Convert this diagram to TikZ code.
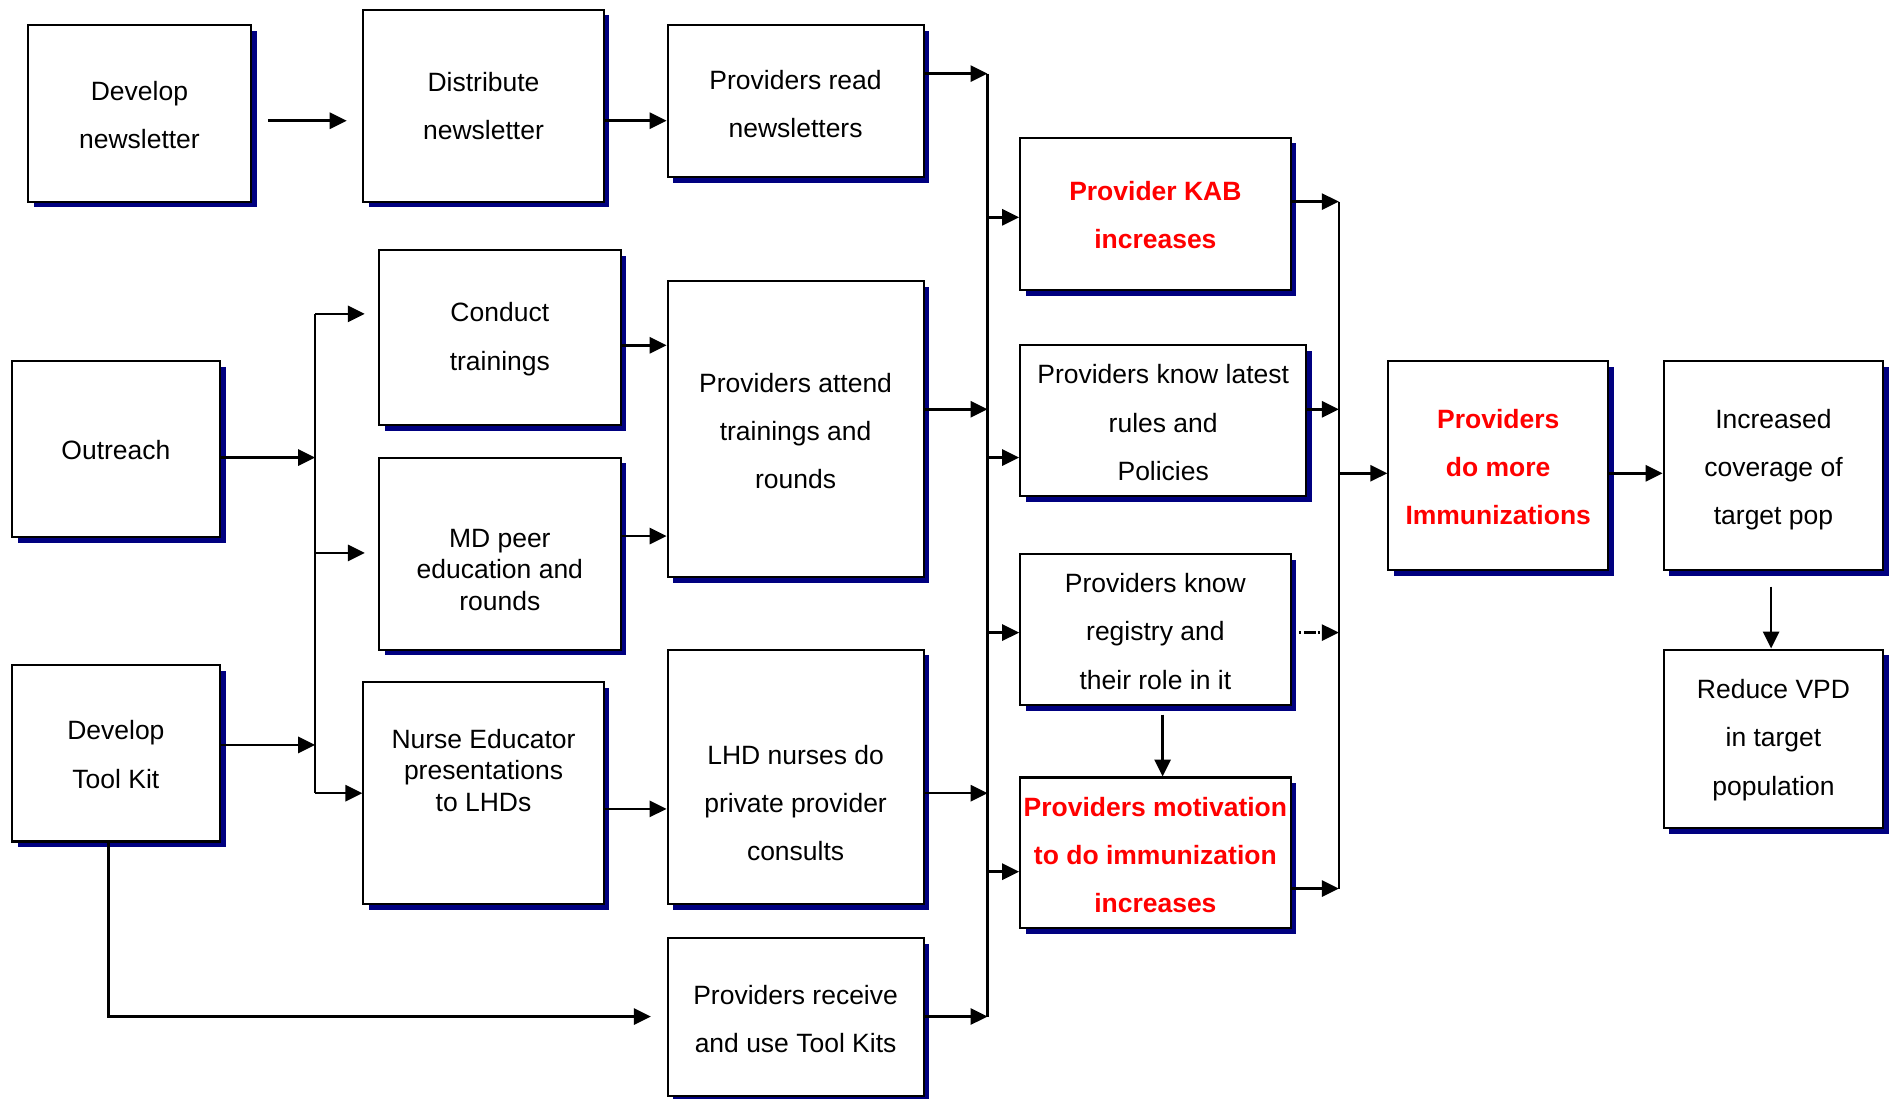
\documentclass[tikz,border=0pt]{standalone}
\usepackage{fontspec}
\setmainfont{Liberation Sans}
\usetikzlibrary{arrows.meta,shadows}
\definecolor{shadowblue}{RGB}{0,0,128}
\definecolor{alertred}{RGB}{255,0,0}

% frame node #2 spanning (#3,#4)-(#5,#6); its text centred at height #7
\newcommand\flowbox[8][]{%
  \node[frame, minimum width={(#5-#3)*0.025cm}, minimum height={(#6-#4)*0.025cm}]
    (#2) at ({(#3+#5)/2},{(#4+#6)/2}) {};
  \node[boxtext,#1] (#2-t) at ({(#3+#5)/2},#7) {#8};}

\begin{document}
\begin{tikzpicture}[x=0.025cm, y=-0.025cm,
  frame/.style={draw, line width=1.2pt, fill=white, inner sep=0pt,
    drop shadow={shadow xshift=0.12cm, shadow yshift=-0.12cm, fill=shadowblue, opacity=1}},
  boxtext/.style={align=center, inner sep=0pt,
    font=\fontsize{15.6pt}{28.4pt}\selectfont},
  tight/.style={font=\fontsize{15.6pt}{18.5pt}\selectfont},
  key/.style={text=alertred, font=\fontsize{15.6pt}{28.4pt}\selectfont\bfseries},
  arr/.style={line width=1.5pt, -{Triangle[length=10pt,width=9.5pt]}},
  bus/.style={line width=1.4pt},
  maybe/.style={arr, dash pattern=on 1.5pt off 1.5pt on 7pt off 1pt}]

\fill[white] (0,0) rectangle (1568,910);
\useasboundingbox (0,0) rectangle (1568,910);

% activities
\flowbox{devnl}{23}{21}{208}{167}{95}{Develop\\newsletter}
\flowbox{distnl}{301}{8}{500}{167}{88}{Distribute\\newsletter}
\flowbox{outreach}{10}{299}{182}{445}{373}{Outreach}
\flowbox{toolkit}{10}{551}{182}{697}{625}{Develop\\Tool Kit}
\flowbox{conduct}{314}{207}{514}{352}{281}{Conduct\\trainings}
\flowbox[tight]{mdpeer}{314}{379}{514}{538}{472}{MD peer\\education and\\rounds}
\flowbox[tight]{nurse}{301}{565}{500}{749}{638}{Nurse Educator\\presentations\\to LHDs}

% outputs
\flowbox{read}{553}{21}{765}{147}{86}{Providers read\\newsletters}
\flowbox{attend}{553}{233}{765}{478}{357}{Providers attend\\trainings and\\rounds}
\flowbox{lhd}{553}{538}{765}{749}{665}{LHD nurses do\\private provider\\consults}
\flowbox{recv}{553}{777}{765}{908}{844}{Providers receive\\and use Tool Kits}

% outcomes
\flowbox[key]{kab}{845}{114}{1069}{240}{178}{Provider KAB\\increases}
\flowbox{rules}{845}{286}{1082}{411}{350}{Providers know latest\\rules and\\Policies}
\flowbox{reg}{845}{459}{1069}{584}{523}{Providers know\\registry and\\their role in it}
\flowbox[key]{motiv}{845}{644}{1069}{769}{708}{Providers motivation\\to do immunization\\increases}
\flowbox[key]{domore}{1150}{299}{1332}{472}{387}{Providers\\do more\\Immunizations}
\flowbox{incr}{1378}{299}{1560}{472}{389}{Increased\\coverage of\\target pop}
\flowbox{reduce}{1378}{538}{1560}{686}{613}{Reduce VPD\\in target\\population}

% collecting lines
\coordinate (b2top) at (261,260);
\coordinate (b2bot) at (261,657);
\coordinate (b1top) at (818,61);
\coordinate (b1bot) at (818,842);
\coordinate (b3top) at (1109,167);
\coordinate (b3bot) at (1109,736);
\draw[bus] (b2top) -- (b2bot);
\draw[bus] (b1top) -- (b1bot);
\draw[bus] (b3top) -- (b3bot);

% newsletter chain
\draw[arr] ([shift={(13,0)}]devnl.east |- 0,100) -- ([shift={(-13,0)}]distnl.west |- 0,100);
\draw[arr] (distnl.east |- 0,100) -- (read.west |- 0,100);
\draw[arr] (read.east |- 0,61) -- (b1top);

% outreach and tool kit into the left collector
\draw[arr] (outreach.east |- 0,379) -- (b2top |- 0,379);
\draw[arr] (toolkit.east |- 0,617) -- (b2top |- 0,617);
\draw[arr] (b2top) -- ([shift={(-11,0)}]conduct.west |- 0,260);
\draw[arr] (b2top |- 0,458) -- ([shift={(-11,0)}]mdpeer.west |- 0,458);
\draw[arr] (b2bot) -- (nurse.west |- 0,657);
\draw[arr] ([shift={(-6,0)}]toolkit.south) |- ([shift={(-13,0)}]recv.west |- 0,842);

% activities to outputs
\draw[arr] (conduct.east |- 0,286) -- (attend.west |- 0,286);
\draw[arr] (mdpeer.east |- 0,444) -- (attend.west |- 0,444);
\draw[arr] (nurse.east |- 0,670) -- (lhd.west |- 0,670);

% outputs into the middle collector
\draw[arr] (attend.east |- 0,339) -- (b1top |- 0,339);
\draw[arr] (lhd.east |- 0,657) -- (b1top |- 0,657);
\draw[arr] (recv.east |- 0,842) -- (b1bot);

% middle collector to outcomes
\draw[arr] (b1top |- 0,180) -- (kab.west |- 0,180);
\draw[arr] (b1top |- 0,379) -- (rules.west |- 0,379);
\draw[arr] (b1top |- 0,524) -- (reg.west |- 0,524);
\draw[arr] (b1top |- 0,722) -- (motiv.west |- 0,722);
\draw[arr] (963,0 |- reg.south) ++(0,7) -- (963,0 |- motiv.north);

% outcomes into the right collector
\draw[arr] (kab.east |- 0,167) -- (b3top);
\draw[arr] (rules.east |- 0,339) -- (b3top |- 0,339);
\draw[maybe] ([shift={(6,0)}]reg.east |- 0,524) -- (b3top |- 0,524);
\draw[arr] (motiv.east |- 0,736) -- (b3bot);

% final chain
\draw[arr] (b3top |- 0,392) -- (domore.west |- 0,392);
\draw[arr] (domore.east |- 0,392) -- (incr.west |- 0,392);
\draw[arr] ([shift={(-2,13)}]incr.south) -- (reduce.north -| 1467,0);
\end{tikzpicture}
\end{document}
